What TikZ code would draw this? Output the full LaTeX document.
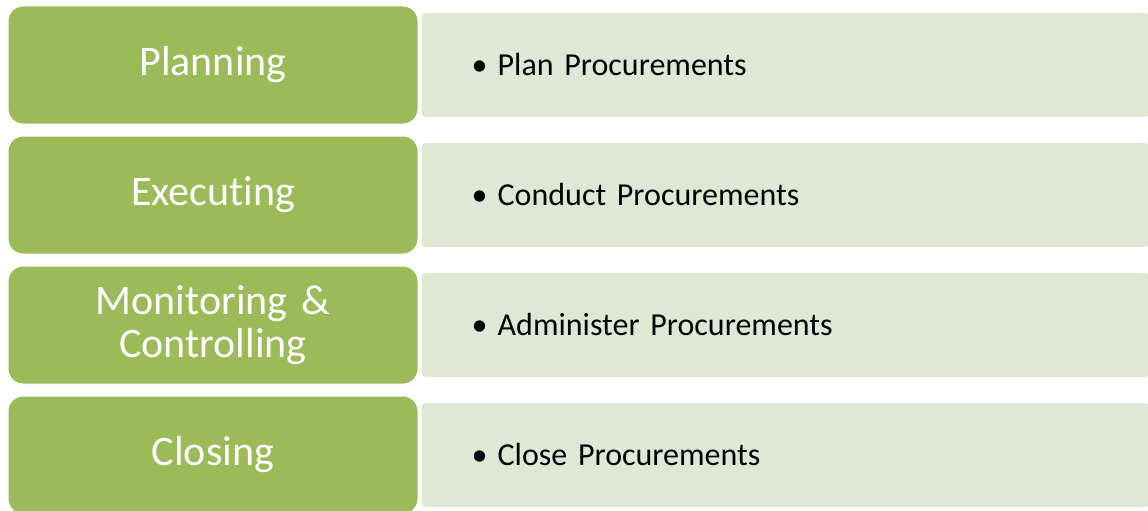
\documentclass[tikz,border=0pt]{standalone}
\usepackage{fontspec}
\setmainfont{Carlito}[Ligatures=NoCommon, WordSpace=0.85]
\usepackage{xcolor}
\usepackage{tikz}
\usetikzlibrary{shapes,arrows,positioning}

\definecolor{phasegreen}{HTML}{9BBB59}
\definecolor{itemgreen}{HTML}{E0E8D5}

\newcommand{\bulletitem}[1]{\makebox[36pt][c]{\textbullet}#1}

\begin{document}
\begin{tikzpicture}[auto, node distance=11pt]
    \tikzstyle{phase} = [rectangle, draw=white, line width=1pt, fill=phasegreen,
        text=white, minimum width=410pt, minimum height=118pt, text width=390pt,
        align=center, rounded corners=15pt, font=\fontsize{42}{43}\selectfont]
    \tikzstyle{item} = [rectangle, fill=itemgreen, minimum width=727pt,
        minimum height=104pt, text width=647pt, inner xsep=40pt, align=left,
        rounded corners=4pt, font=\fontsize{32}{38}\selectfont]

    \useasboundingbox (0,0) rectangle (1148pt,-511pt);

    \node [phase] at (213pt,-65pt) (plan) {Planning};
    \node [phase, below=of plan] (exec) {Executing};
    \node [phase, below=of exec] (monitor) {Monitoring \&\\Controlling};
    \node [phase, below=of monitor] (close) {Closing};

    \node [item, right=3pt of plan] (planitem) {\bulletitem{Plan Procurements}};
    \node [item, right=3pt of exec] (execitem) {\bulletitem{Conduct Procurements}};
    \node [item, right=3pt of monitor] (monitoritem) {\bulletitem{Administer Procurements}};
    \node [item, right=3pt of close] (closeitem) {\bulletitem{Close Procurements}};
\end{tikzpicture}
\end{document}
